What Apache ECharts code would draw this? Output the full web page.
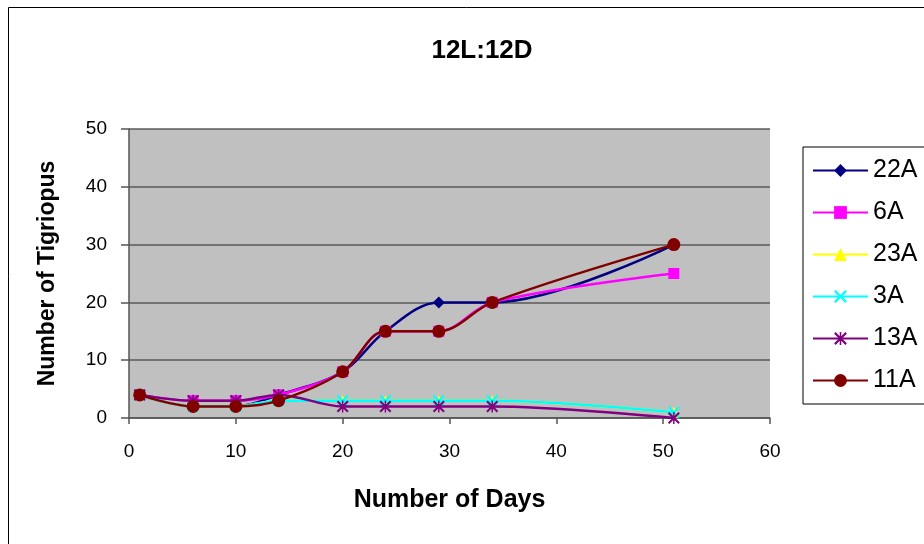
<!DOCTYPE html>
<html>
<head>
<meta charset="utf-8">
<script src="https://cdn.jsdelivr.net/npm/echarts@6/dist/echarts.min.js"></script>
<style>
html,body{margin:0;padding:0;background:#fff;}
#c{width:924px;height:544px;}
</style>
</head>
<body>
<div id="c"></div>
<script>
var days = [1, 6, 10, 14, 20, 24, 29, 34, 51];
var s22A = [4, 2, 2, 4, 8, 15, 20, 20, 30];
var s6A  = [4, 3, 3, 4, 8, 15, 15, 20, 25];
var s23A = [4, 2, 2, 3, 3, 3, 3, 3, 1];
var s3A  = [4, 2, 2, 3, 3, 3, 3, 3, 1];
var s13A = [4, 3, 3, 4, 2, 2, 2, 2, 0];
var s11A = [4, 2, 2, 3, 8, 15, 15, 20, 30];
var seriesNames = ['22A', '6A', '23A', '3A', '13A', '11A'];
var yTicks = [0, 10, 20, 30, 40, 50];
var xTicks = [0, 10, 20, 30, 40, 50, 60];

var colors = ['#000080', '#FF00FF', '#FFFF00', '#00FFFF', '#800080', '#800000'];
var xPath = 'path://M0,1.2L1.2,0L5,3.8L8.8,0L10,1.2L6.2,5L10,8.8L8.8,10L5,6.2L1.2,10L0,8.8L3.8,5Z';
var starPath = 'path://M0,1.2L1.2,0L5,3.8L8.8,0L10,1.2L6.2,5L10,8.8L8.8,10L5,6.2L1.2,10L0,8.8L3.8,5Z M4.4,0L5.6,0L5.6,10L4.4,10Z';
var symbols = ['diamond', 'rect', 'triangle', xPath, starPath, 'circle'];
var sizes = [12, 11, 11, 12, 12, 13];
var dataSets = [s22A, s6A, s23A, s3A, s13A, s11A];

function pairs(arr) { return days.map(function (d, i) { return [d, arr[i]]; }); }

var series = seriesNames.map(function (n, i) {
  return {
    name: n,
    type: 'line',
    data: pairs(dataSets[i]),
    smooth: 0.35,
    symbol: symbols[i],
    symbolSize: sizes[i],
    showAllSymbol: true,
    lineStyle: { color: colors[i], width: 2.5 },
    itemStyle: { color: colors[i], borderWidth: 0 },
    emphasis: { disabled: true },
    z: 2 + i
  };
});

var FONT = 'Liberation Sans, Arial';
var chart = echarts.init(document.getElementById('c'), null, { renderer: 'canvas' });
chart.setOption({
  animation: false,
  backgroundColor: '#ffffff',
  title: {
    text: '12L:12D',
    left: 477, top: 33, textAlign: 'center',
    textStyle: { fontFamily: FONT, fontSize: 26, fontWeight: 'bold', color: '#000' }
  },
  graphic: [{
    type: 'rect', z: -10, silent: true,
    shape: { x: 8.5, y: 7.5, width: 1000, height: 1000 },
    style: { fill: 'none', stroke: '#000', lineWidth: 1 }
  }],
  grid: { left: 129, right: 154, top: 129, bottom: 126, show: true, backgroundColor: '#C0C0C0', borderWidth: 0 },
  legend: {
    orient: 'vertical',
    left: 803, top: 147,
    padding: [11, 80, 11, 9],
    itemWidth: 55, itemHeight: 16, itemGap: 17,
    borderColor: '#000', borderWidth: 1,
    backgroundColor: '#fff',
    data: seriesNames,
    textStyle: { fontFamily: FONT, fontSize: 25, color: '#000' }
  },
  xAxis: {
    type: 'value', min: 0, max: 60, interval: 10,
    name: 'Number of Days', nameLocation: 'middle', nameGap: 70,
    nameTextStyle: { fontFamily: FONT, fontSize: 25, fontWeight: 'bold', color: '#000' },
    axisLine: { show: true, onZero: false, lineStyle: { color: '#555', width: 1.5 } },
    axisTick: { show: true, length: 6, lineStyle: { color: '#555', width: 1.5 } },
    axisLabel: { margin: 24, fontFamily: FONT, fontSize: 19, color: '#000',
      formatter: function (v) { return xTicks.indexOf(v) >= 0 ? String(v) : ''; } },
    splitLine: { show: false }
  },
  yAxis: {
    type: 'value', min: 0, max: 50, interval: 10,
    name: 'Number of Tigriopus', nameLocation: 'middle', nameGap: 70,
    nameTextStyle: { fontFamily: FONT, fontSize: 23, fontWeight: 'bold', color: '#000' },
    axisLine: { show: true, lineStyle: { color: '#555', width: 1.5 } },
    axisTick: { show: true, length: 8, lineStyle: { color: '#555', width: 1.5 } },
    axisLabel: { margin: 22, fontFamily: FONT, fontSize: 19, color: '#000',
      formatter: function (v) { return yTicks.indexOf(v) >= 0 ? String(v) : ''; } },
    splitLine: { show: true, lineStyle: { color: '#5a5a5a', width: 1.5 } }
  },
  series: series
});
</script>
</body>
</html>
